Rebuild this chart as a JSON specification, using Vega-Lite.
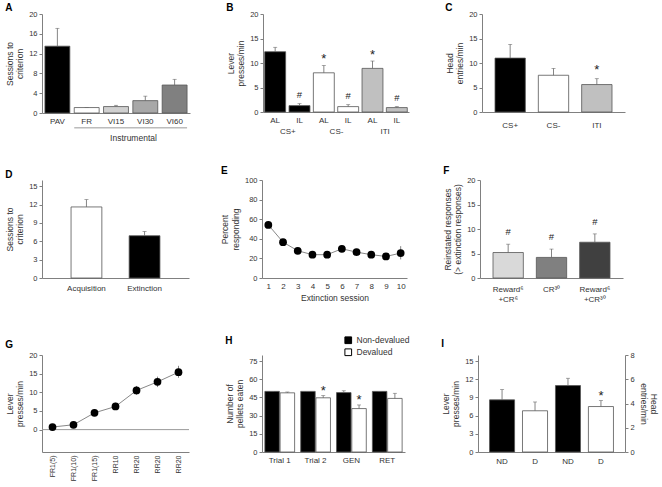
{
  "$schema": "https://vega.github.io/schema/vega-lite/v6.json",
  "padding": {"left": 5, "top": 3, "right": 5, "bottom": 3},
  "background": "white",
  "config": {
    "font": "Liberation Sans",
    "view": {"stroke": null},
    "axis": {"labelFontSize": 8, "titleFontSize": 8.5, "titleFontWeight": "normal", "labelColor": "#333", "titleColor": "#333", "domainColor": "#808080", "tickColor": "#808080", "grid": false, "tickSize": 3, "labelPadding": 2, "titlePadding": 4, "labelFont": "Liberation Sans", "titleFont": "Liberation Sans", "labelOverlap": false},
    "axisX": {"ticks": false, "labelAngle": 0},
    "axisY": {"labelFontSize": 7.5, "labelOverlap": false, "tickCount": 12},
    "title": {"fontSize": 10, "fontWeight": "bold", "anchor": "start", "frame": "bounds", "color": "#000", "offset": 2, "font": "Liberation Sans"},
    "legend": {"labelFont": "Liberation Sans", "rowPadding": 0, "symbolSize": 45}
  },
  "datasets": {
    "A": [
      {"cond": "PAV", "mean": 13.5, "upper": 17.1},
      {"cond": "FR", "mean": 1.1, "upper": 1.1},
      {"cond": "VI15", "mean": 1.3, "upper": 1.55},
      {"cond": "VI30", "mean": 2.5, "upper": 3.4},
      {"cond": "VI60", "mean": 5.65, "upper": 6.8}
    ],
    "B": [
      {"bar": "CS+ AL", "stim": "CS+", "mean": 12.3, "upper": 13.2, "sig": ""},
      {"bar": "CS+ IL", "stim": "CS+", "mean": 1.3, "upper": 1.7, "sig": "#"},
      {"bar": "CS- AL", "stim": "CS-", "mean": 8.0, "upper": 9.5, "sig": "*"},
      {"bar": "CS- IL", "stim": "CS-", "mean": 1.1, "upper": 1.5, "sig": "#"},
      {"bar": "ITI AL", "stim": "ITI", "mean": 8.9, "upper": 10.4, "sig": "*"},
      {"bar": "ITI IL", "stim": "ITI", "mean": 0.9, "upper": 1.1, "sig": "#"}
    ],
    "C": [
      {"stim": "CS+", "mean": 11.0, "upper": 13.8, "sig": ""},
      {"stim": "CS-", "mean": 7.5, "upper": 8.9, "sig": ""},
      {"stim": "ITI", "mean": 5.6, "upper": 6.8, "sig": "*"}
    ],
    "D": [
      {"phase": "Acquisition", "mean": 11.6, "upper": 12.8},
      {"phase": "Extinction", "mean": 6.9, "upper": 7.6}
    ],
    "E": [
      {"session": 1, "mean": 54.2, "lower": 52, "upper": 56.5},
      {"session": 2, "mean": 36.6, "lower": 34.5, "upper": 38.5},
      {"session": 3, "mean": 27.8, "lower": 25.8, "upper": 29.8},
      {"session": 4, "mean": 23.8, "lower": 21.8, "upper": 25.8},
      {"session": 5, "mean": 23.8, "lower": 21.8, "upper": 25.8},
      {"session": 6, "mean": 29.8, "lower": 27.5, "upper": 32},
      {"session": 7, "mean": 26.4, "lower": 24.4, "upper": 28.4},
      {"session": 8, "mean": 23.8, "lower": 21.8, "upper": 25.8},
      {"session": 9, "mean": 22.0, "lower": 20, "upper": 24},
      {"session": 10, "mean": 25.4, "lower": 19, "upper": 32.5}
    ],
    "F": [
      {"cond": "Reward⁶|+CR⁶", "mean": 5.2, "upper": 6.9, "sig": "#"},
      {"cond": "CR³⁰", "mean": 4.2, "upper": 5.9, "sig": "#"},
      {"cond": "Reward⁶|+CR³⁰", "mean": 7.3, "upper": 9.0, "sig": "#"}
    ],
    "G": [
      {"stage": "FR1(5)", "mean": 0.7, "lower": 0.2, "upper": 1.2},
      {"stage": "FR1(10)", "mean": 1.3, "lower": 0.8, "upper": 1.8},
      {"stage": "FR1(15)", "mean": 4.5, "lower": 3.9, "upper": 5.1},
      {"stage": "RR10", "mean": 6.2, "lower": 5.3, "upper": 7.2},
      {"stage": "RR20-1", "mean": 10.5, "lower": 9.3, "upper": 11.7},
      {"stage": "RR20-2", "mean": 12.8, "lower": 11.4, "upper": 14.2},
      {"stage": "RR20-3", "mean": 15.4, "lower": 13.9, "upper": 17.1}
    ],
    "H": [
      {"group": "Trial 1", "cond": "Non-devalued", "mean": 50, "upper": 50, "sig": ""},
      {"group": "Trial 1", "cond": "Devalued", "mean": 48.8, "upper": 49.5, "sig": ""},
      {"group": "Trial 2", "cond": "Non-devalued", "mean": 50, "upper": 50, "sig": ""},
      {"group": "Trial 2", "cond": "Devalued", "mean": 44.7, "upper": 46.5, "sig": "*"},
      {"group": "GEN", "cond": "Non-devalued", "mean": 49, "upper": 50.5, "sig": ""},
      {"group": "GEN", "cond": "Devalued", "mean": 35.8, "upper": 38.8, "sig": "*"},
      {"group": "RET", "cond": "Non-devalued", "mean": 50, "upper": 50, "sig": ""},
      {"group": "RET", "cond": "Devalued", "mean": 44.2, "upper": 48.4, "sig": ""}
    ],
    "I": [
      {"bar": "ND-L", "cond": "ND", "measure": "Lever", "mean": 8.6, "upper": 10.3, "sig": ""},
      {"bar": "D-L", "cond": "D", "measure": "Lever", "mean": 6.8, "upper": 8.25, "sig": ""},
      {"bar": "ND-H", "cond": "ND", "measure": "Head", "mean": 5.48, "upper": 6.08, "sig": ""},
      {"bar": "D-H", "cond": "D", "measure": "Head", "mean": 3.75, "upper": 4.24, "sig": "*"}
    ]
  },
  "resolve": {"scale": {"fill": "independent"}, "legend": {"fill": "independent"}},
  "vconcat": [
    {
      "resolve": {"scale": {"fill": "independent"}, "legend": {"fill": "independent"}},
      "hconcat": [
        {
          "width": 148, "height": 99,
          "title": {"text": "A", "dy": 5},
          "data": {"name": "A"},
          "encoding": {"x": {"field": "cond", "type": "nominal", "sort": null, "scale": {"paddingInner": 0.15, "paddingOuter": 0.1}, "axis": {"title": "Instrumental", "labelPadding": 4, "titleX": 91, "titleY": 20}}},
          "layer": [
            {"mark": {"type": "bar", "stroke": "#555", "strokeWidth": 0.8},
             "encoding": {
               "y": {"field": "mean", "type": "quantitative", "scale": {"domain": [0, 20]}, "axis": {"values": [0, 4, 8, 12, 16, 20], "format": "d", "title": ["Sessions to", "criterion"]}},
               "fill": {"field": "cond", "type": "nominal", "scale": {"domain": ["PAV", "FR", "VI15", "VI30", "VI60"], "range": ["#000000", "#ffffff", "#d0d0d0", "#a8a8a8", "#808080"]}, "legend": null}}},
            {"mark": {"type": "rule", "color": "#666", "strokeWidth": 0.8}, "encoding": {"y": {"field": "mean", "type": "quantitative"}, "y2": {"field": "upper"}}},
            {"mark": {"type": "tick", "color": "#666", "thickness": 0.8, "size": 4}, "encoding": {"y": {"field": "upper", "type": "quantitative"}}},
            {"data": {"values": [{"label": "Instrumental"}]},
             "mark": {"type": "rule", "color": "#999", "strokeWidth": 1},
             "encoding": {"x": {"datum": "FR", "bandPosition": 0}, "x2": {"datum": "VI60", "bandPosition": 1}, "y": {"datum": -3}}}
          ]
        },
        {
          "width": 146, "height": 98,
          "title": {"text": "B", "dy": 5},
          "data": {"name": "B"},
          "layer": [
            {
              "encoding": {"x": {"field": "bar", "type": "nominal", "sort": null, "scale": {"paddingInner": 0.14, "paddingOuter": 0.07}, "axis": {"title": null, "labelExpr": "split(datum.label, ' ')[1]", "labelPadding": 4}}},
              "layer": [
                {"mark": {"type": "bar", "stroke": "#555", "strokeWidth": 0.8},
                 "encoding": {
                   "y": {"field": "mean", "type": "quantitative", "scale": {"domain": [0, 20]}, "axis": {"values": [0, 5, 10, 15, 20], "format": "d", "title": ["Lever", "presses/min"]}},
                   "fill": {"field": "stim", "type": "nominal", "scale": {"domain": ["CS+", "CS-", "ITI"], "range": ["#000000", "#ffffff", "#c0c0c0"]}, "legend": null}}},
                {"mark": {"type": "rule", "color": "#666", "strokeWidth": 0.8}, "encoding": {"y": {"field": "mean", "type": "quantitative"}, "y2": {"field": "upper"}}},
                {"mark": {"type": "tick", "color": "#666", "thickness": 0.8, "size": 4}, "encoding": {"y": {"field": "upper", "type": "quantitative"}}},
                {"transform": [{"filter": "datum.sig == '#'"}], "mark": {"type": "text", "fontSize": 9.5, "baseline": "middle", "dy": -9, "fill": "#222"}, "encoding": {"y": {"field": "upper", "type": "quantitative"}, "text": {"field": "sig"}}},
                {"transform": [{"filter": "datum.sig == '*'"}], "mark": {"type": "text", "fontSize": 13, "baseline": "middle", "dy": -6, "fill": "#222"}, "encoding": {"y": {"field": "upper", "type": "quantitative"}, "text": {"field": "sig"}}}
              ]
            },
            {"mark": {"type": "point", "opacity": 0},
             "encoding": {
               "x": {"field": "stim", "type": "nominal", "sort": null, "scale": {"paddingInner": 0, "paddingOuter": 0}, "axis": {"orient": "bottom", "title": null, "domain": false, "labelPadding": 15}},
               "y": {"field": "mean", "type": "quantitative"}}}
          ],
          "resolve": {"scale": {"x": "independent"}}
        },
        {
          "width": 143, "height": 98,
          "title": {"text": "C", "dy": 5},
          "data": {"name": "C"},
          "encoding": {"x": {"field": "stim", "type": "nominal", "sort": null, "scale": {"paddingInner": 0.3, "paddingOuter": 0.3}, "axis": {"title": null, "labelPadding": 9}}},
          "layer": [
            {"mark": {"type": "bar", "stroke": "#555", "strokeWidth": 0.8},
             "encoding": {
               "y": {"field": "mean", "type": "quantitative", "scale": {"domain": [0, 20]}, "axis": {"values": [0, 5, 10, 15, 20], "format": "d", "title": ["Head", "entries/min"]}},
               "fill": {"field": "stim", "type": "nominal", "scale": {"domain": ["CS+", "CS-", "ITI"], "range": ["#000000", "#ffffff", "#c0c0c0"]}, "legend": null}}},
            {"mark": {"type": "rule", "color": "#666", "strokeWidth": 0.8}, "encoding": {"y": {"field": "mean", "type": "quantitative"}, "y2": {"field": "upper"}}},
            {"mark": {"type": "tick", "color": "#666", "thickness": 0.8, "size": 4}, "encoding": {"y": {"field": "upper", "type": "quantitative"}}},
            {"mark": {"type": "text", "fontSize": 13, "baseline": "middle", "dy": -9, "fill": "#222"}, "encoding": {"y": {"field": "upper", "type": "quantitative"}, "text": {"field": "sig"}}}
          ]
        }
      ],
      "spacing": 73,
      "bounds": "flush"
    },
    {
      "resolve": {"scale": {"fill": "independent"}, "legend": {"fill": "independent"}},
      "vconcat": [
        {
          "resolve": {"scale": {"fill": "independent"}, "legend": {"fill": "independent"}},
          "hconcat": [
            {
              "width": 147, "height": 98,
              "title": {"text": "D", "dy": 2},
              "data": {"name": "D"},
              "encoding": {"x": {"field": "phase", "type": "nominal", "sort": null, "scale": {"paddingInner": 0.47, "paddingOuter": 0.5}, "axis": {"title": null, "labelPadding": 6}}},
              "layer": [
                {"mark": {"type": "bar", "stroke": "#555", "strokeWidth": 0.8},
                 "encoding": {
                   "y": {"field": "mean", "type": "quantitative", "scale": {"domain": [0, 15]}, "axis": {"values": [0, 3, 6, 9, 12, 15], "format": "d", "title": ["Sessions to", "criterion"]}},
                   "fill": {"field": "phase", "type": "nominal", "scale": {"domain": ["Acquisition", "Extinction"], "range": ["#ffffff", "#000000"]}, "legend": null}}},
                {"mark": {"type": "rule", "color": "#666", "strokeWidth": 0.8}, "encoding": {"y": {"field": "mean", "type": "quantitative"}, "y2": {"field": "upper"}}},
                {"mark": {"type": "tick", "color": "#666", "thickness": 0.8, "size": 4}, "encoding": {"y": {"field": "upper", "type": "quantitative"}}}
              ]
            },
            {
              "width": 145, "height": 98,
              "title": {"text": "E", "dy": 2},
              "data": {"name": "E"},
              "encoding": {"x": {"field": "session", "type": "ordinal", "scale": {"type": "point", "padding": 0.43}, "axis": {"title": "Extinction session", "labelPadding": 4, "titlePadding": 3}}},
              "layer": [
                {"mark": {"type": "line", "color": "#888", "strokeWidth": 1},
                 "encoding": {"y": {"field": "mean", "type": "quantitative", "scale": {"domain": [0, 100]}, "axis": {"values": [0, 20, 40, 60, 80, 100], "format": "d", "title": ["Percent", "responding"]}}}},
                {"mark": {"type": "rule", "color": "#666", "strokeWidth": 0.8}, "encoding": {"y": {"field": "lower", "type": "quantitative"}, "y2": {"field": "upper"}}},
                {"mark": {"type": "point", "filled": true, "color": "#000", "size": 60, "opacity": 1}, "encoding": {"y": {"field": "mean", "type": "quantitative"}}}
              ]
            },
            {
              "width": 143, "height": 98,
              "title": {"text": "F", "dy": 2},
              "data": {"name": "F"},
              "encoding": {"x": {"field": "cond", "type": "nominal", "sort": null, "scale": {"paddingInner": 0.3, "paddingOuter": 0.3}, "axis": {"title": null, "labelPadding": 7, "labelExpr": "split(datum.label, '|')", "labelLineHeight": 10}}},
              "layer": [
                {"mark": {"type": "bar", "stroke": "#555", "strokeWidth": 0.8},
                 "encoding": {
                   "y": {"field": "mean", "type": "quantitative", "scale": {"domain": [0, 20]}, "axis": {"values": [0, 5, 10, 15, 20], "format": "d", "title": ["Reinstated responses", "(> extinction responses)"]}},
                   "fill": {"field": "cond", "type": "nominal", "scale": {"domain": ["Reward⁶|+CR⁶", "CR³⁰", "Reward⁶|+CR³⁰"], "range": ["#d9d9d9", "#808080", "#404040"]}, "legend": null}}},
                {"mark": {"type": "rule", "color": "#666", "strokeWidth": 0.8}, "encoding": {"y": {"field": "mean", "type": "quantitative"}, "y2": {"field": "upper"}}},
                {"mark": {"type": "tick", "color": "#666", "thickness": 0.8, "size": 4}, "encoding": {"y": {"field": "upper", "type": "quantitative"}}},
                {"mark": {"type": "text", "fontSize": 9.5, "baseline": "middle", "dy": -12, "fill": "#222"}, "encoding": {"y": {"field": "upper", "type": "quantitative"}, "text": {"field": "sig"}}}
              ]
            }
          ],
          "spacing": 73,
          "bounds": "flush"
        },
        {
          "resolve": {"scale": {"fill": "independent"}, "legend": {"fill": "independent"}},
          "hconcat": [
            {
              "width": 147, "height": 97,
              "title": {"text": "G", "dy": 1},
              "encoding": {"x": {"field": "stage", "type": "nominal", "sort": null, "scale": {"type": "point", "padding": 0.5}, "axis": {"title": null, "labelAngle": 270, "labelExpr": "split(datum.label, '-')[0]", "labelPadding": 3, "labelFontSize": 7}}},
              "layer": [
                {"data": {"values": [{"ref": 0}]}, "mark": {"type": "rule", "color": "#999", "strokeWidth": 1}, "encoding": {"x": null, "y": {"field": "ref", "type": "quantitative"}}},
                {"data": {"name": "G"}, "mark": {"type": "line", "color": "#888", "strokeWidth": 1},
                 "encoding": {"y": {"field": "mean", "type": "quantitative", "scale": {"domain": [-5, 20]}, "axis": {"values": [0, 5, 10, 15, 20], "format": "d", "title": ["Lever", "presses/min"]}}}},
                {"data": {"name": "G"}, "mark": {"type": "rule", "color": "#666", "strokeWidth": 0.8}, "encoding": {"y": {"field": "lower", "type": "quantitative"}, "y2": {"field": "upper"}}},
                {"data": {"name": "G"}, "mark": {"type": "point", "filled": true, "color": "#000", "size": 60, "opacity": 1}, "encoding": {"y": {"field": "mean", "type": "quantitative"}}}
              ]
            },
            {
              "width": 143, "height": 97,
              "title": {"text": "H", "dy": 11.5},
              "data": {"name": "H"},
              "encoding": {
                "x": {"field": "group", "type": "nominal", "sort": null, "scale": {"paddingInner": 0.17, "paddingOuter": 0.08}, "axis": {"title": null, "labelPadding": 4}},
                "xOffset": {"field": "cond", "type": "nominal", "sort": ["Non-devalued", "Devalued"], "scale": {"paddingInner": 0.05}}
              },
              "layer": [
                {"mark": {"type": "bar", "stroke": "#555", "strokeWidth": 0.8},
                 "encoding": {
                   "y": {"field": "mean", "type": "quantitative", "scale": {"domain": [0, 75]}, "axis": {"values": [0, 15, 30, 45, 60, 75], "format": "d", "title": ["Number of", "pellets eaten"]}},
                   "fill": {"field": "cond", "type": "nominal", "sort": ["Non-devalued", "Devalued"], "scale": {"domain": ["Non-devalued", "Devalued"], "range": ["#000000", "#ffffff"]},
                     "legend": {"orient": "none", "legendX": 82, "legendY": -19, "title": null, "symbolType": "square", "symbolSize": 45, "symbolStrokeColor": "#000", "symbolStrokeWidth": 1, "labelFontSize": 8.5, "labelColor": "#333", "rowPadding": 0, "padding": 0}}}},
                {"mark": {"type": "rule", "color": "#666", "strokeWidth": 0.8}, "encoding": {"y": {"field": "mean", "type": "quantitative"}, "y2": {"field": "upper"}}},
                {"mark": {"type": "tick", "color": "#666", "thickness": 0.8, "size": 4}, "encoding": {"y": {"field": "upper", "type": "quantitative"}}},
                {"mark": {"type": "text", "fontSize": 13, "baseline": "middle", "dy": -5, "fill": "#222"}, "encoding": {"y": {"field": "upper", "type": "quantitative"}, "text": {"field": "sig"}}}
              ]
            },
            {
              "width": 147, "height": 97,
              "title": {"text": "I", "dy": 0},
              "data": {"name": "I"},
              "encoding": {
                "x": {"field": "bar", "type": "nominal", "sort": null, "scale": {"domain": ["ND-L", "D-L", "ND-H", "D-H"], "paddingInner": 0.24, "paddingOuter": 0.35}, "axis": {"title": null, "labelExpr": "split(datum.label, '-')[0]", "labelPadding": 5}},
                "fill": {"field": "cond", "type": "nominal", "scale": {"domain": ["ND", "D"], "range": ["#000000", "#ffffff"]}, "legend": null}
              },
              "layer": [
                {
                  "transform": [{"filter": "datum.measure == 'Lever'"}],
                  "layer": [
                    {"mark": {"type": "bar", "stroke": "#555", "strokeWidth": 0.8},
                     "encoding": {"y": {"field": "mean", "type": "quantitative", "scale": {"domain": [0, 15]}, "axis": {"values": [0, 3, 6, 9, 12, 15], "format": "d", "title": ["Lever", "presses/min"]}}}},
                    {"mark": {"type": "rule", "color": "#666", "strokeWidth": 0.8}, "encoding": {"fill": null, "y": {"field": "mean", "type": "quantitative"}, "y2": {"field": "upper"}}},
                    {"mark": {"type": "tick", "color": "#666", "thickness": 0.8, "size": 4}, "encoding": {"fill": null, "y": {"field": "upper", "type": "quantitative"}}}
                  ]
                },
                {
                  "transform": [{"filter": "datum.measure == 'Head'"}],
                  "layer": [
                    {"mark": {"type": "bar", "stroke": "#555", "strokeWidth": 0.8},
                     "encoding": {"y": {"field": "mean", "type": "quantitative", "scale": {"domain": [0, 8]}, "axis": {"orient": "right", "values": [0, 2, 4, 6, 8], "format": "d", "title": ["Head", "entries/min"]}}}},
                    {"mark": {"type": "rule", "color": "#666", "strokeWidth": 0.8}, "encoding": {"fill": null, "y": {"field": "mean", "type": "quantitative"}, "y2": {"field": "upper"}}},
                    {"mark": {"type": "tick", "color": "#666", "thickness": 0.8, "size": 4}, "encoding": {"fill": null, "y": {"field": "upper", "type": "quantitative"}}},
                    {"mark": {"type": "text", "fontSize": 13, "baseline": "middle", "dy": -5, "fill": "#222"}, "encoding": {"fill": null, "y": {"field": "upper", "type": "quantitative"}, "text": {"field": "sig"}}}
                  ]
                }
              ],
              "resolve": {"scale": {"y": "independent"}}
            }
          ],
          "spacing": 73,
          "bounds": "flush"
        }
      ],
      "spacing": 32
    }
  ],
  "spacing": 24
}
